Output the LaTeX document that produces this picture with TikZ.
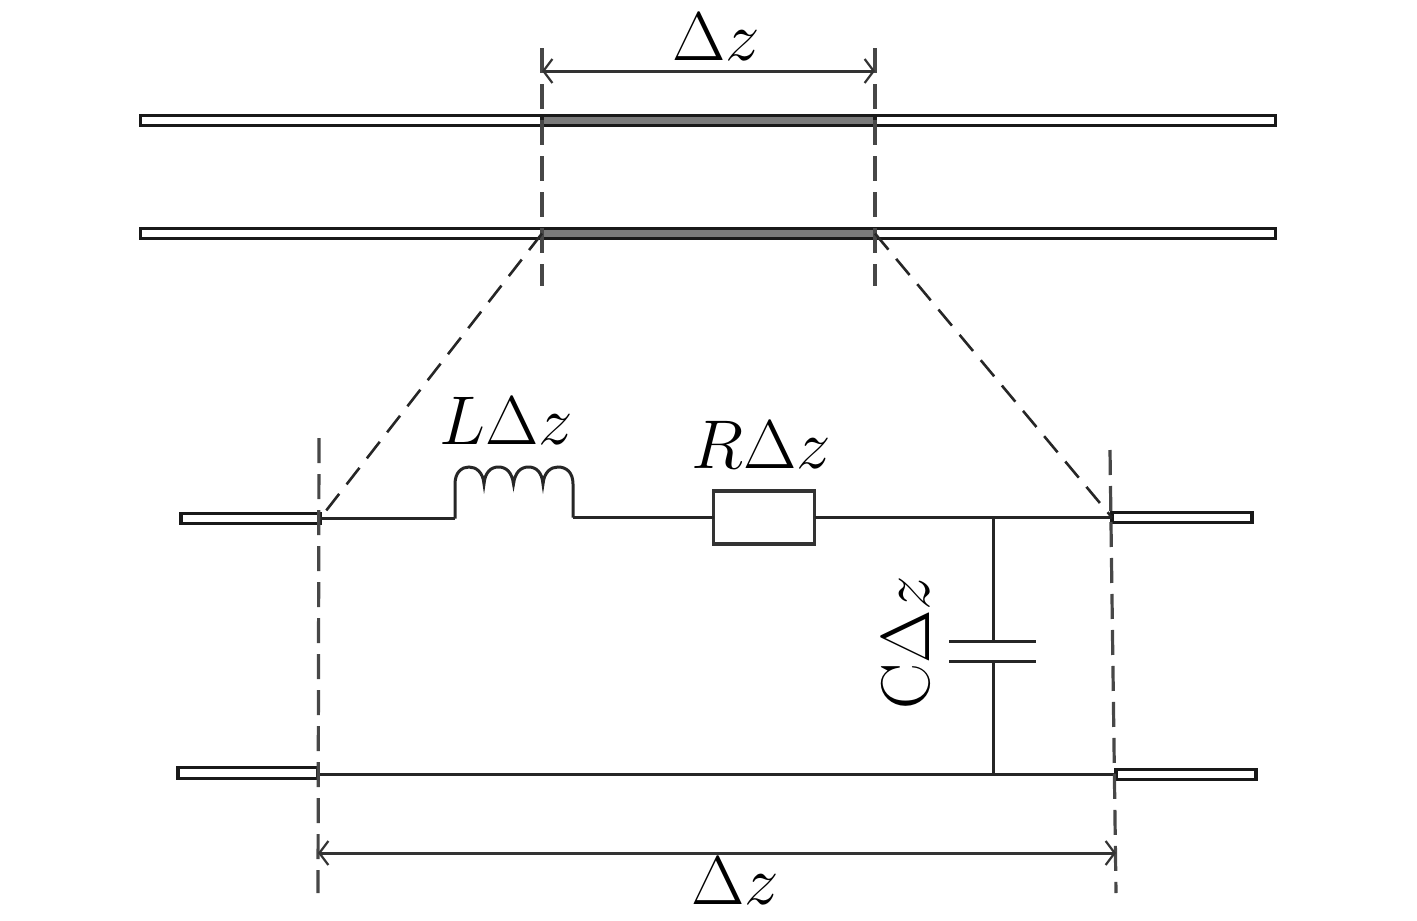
\documentclass[tikz,border=0pt]{standalone}
\usepackage{fix-cm}
\usetikzlibrary{arrows.meta}
\tikzset{
  wire/.style={draw=black!85,line width=3pt},
  bar/.style={draw=black!90,fill=white,line width=3.2pt,inner sep=0pt,outer sep=0pt,minimum height=10.5pt},
  darkbar/.style={bar,fill=black!52},
  resistor/.style={draw=black!80,fill=white,line width=3.4pt,inner sep=0pt,outer sep=0pt,minimum width=101pt,minimum height=53pt},
  guide/.style={draw=black!72,line width=3.6pt,dash pattern=on 25pt off 11pt},
  slant/.style={draw=black!85,line width=2.6pt,dash pattern=on 21pt off 12pt},
  dim/.style={draw=black!80,line width=3pt,{Straight Barb[length=9pt,width=24pt,line width=2.2pt]}-{Straight Barb[length=9pt,width=24pt,line width=2.2pt]}},
  lab/.style={inner sep=0pt,outer sep=0pt,anchor=base,font=\fontsize{69}{83}\selectfont}
}
\begin{document}
\begin{tikzpicture}[x=1pt,y=-1pt]
\useasboundingbox (0,0) rectangle (1417,921);
% transmission line
\node[bar,minimum width=1135pt] (upper) at (708,120.5) {};
\node[bar,minimum width=1135pt] (lower) at (708,233.5) {};
\node[darkbar,minimum width=333pt] (upperseg) at (708.5,120.5) {};
\node[darkbar,minimum width=333pt] (lowerseg) at (708.5,233.5) {};
% guides at the top
\coordinate (tlt) at (542,48);
\coordinate (tlb) at (542,286);
\coordinate (trt) at (875,48);
\coordinate (trb) at (875,286);
\draw[guide] (tlt) -- (tlb);
\draw[guide] (trt) -- (trb);
\coordinate (tda) at (542,71);
\coordinate (tdb) at (875,71);
\draw[dim] (tda) -- (tdb);
\node[lab] (toplab) at (716,60) {$\Delta z$};
% stubs
\node[bar,minimum width=139pt] (stubtl) at (250.5,518.5) {};
\node[bar,minimum width=140pt] (stubbl) at (248,773) {};
\node[bar,minimum width=140pt] (stubtr) at (1182,517.5) {};
\node[bar,minimum width=140pt] (stubbr) at (1186,774.5) {};
% circuit
\node[resistor] (res) at (764,517.5) {};
\coordinate (lina) at (455,518.5);
\coordinate (linb) at (573,517.5);
\coordinate (junct) at (993,517.5);
\coordinate (juncb) at (993,774);
\coordinate (platea) at (993,641);
\coordinate (plateb) at (993,661);
\coordinate (pal) at (949,641);
\coordinate (par) at (1036,641);
\coordinate (pbl) at (949,661);
\coordinate (pbr) at (1036,661);
\draw[wire] (stubtl.east) -- (lina);
\draw[wire] (lina) -- (455,484)
  .. controls (455,472) and (462,467) .. (469,467)
  .. controls (476,467) and (483,472) .. (484,484)
  .. controls (485,472) and (491,467) .. (498.500,467)
  .. controls (506,467) and (512,472) .. (513.500,484)
  .. controls (515,472) and (521,467) .. (528.500,467)
  .. controls (536,467) and (542,472) .. (543,484)
  .. controls (544,472) and (551,467) .. (558,467)
  .. controls (566,467) and (573,472) .. (573,484)
  -- (linb);
\draw[wire] (linb) -- (res.west);
\draw[wire] (res.east) -- (stubtr.west);
\draw[wire] (junct) -- (platea);
\draw[wire] (plateb) -- (juncb);
\draw[wire] (pal) -- (par);
\draw[wire] (pbl) -- (pbr);
\draw[wire] (stubbl.east |- juncb) -- (stubbr.west |- juncb);
% zoom lines
\draw[slant] (lowerseg.west) -- (stubtl.east);
\draw[slant] (lowerseg.east) -- (stubtr.west);
% guides of the circuit
\coordinate (blt) at (319,438);
\coordinate (blb) at (318,893);
\coordinate (brt) at (1110,450);
\coordinate (brb) at (1116,893);
\draw[guide,line width=3.2pt] (blt) -- (blb);
\draw[guide,line width=3.2pt] (brt) -- (brb);
\coordinate (bda) at (318,853);
\coordinate (bdb) at (1116,853);
\draw[dim] (bda) -- (bdb);
% labels
\node[lab] (llab) at (506,444) {$L\Delta z$};
\node[lab] (rlab) at (761,468) {$R\Delta z$};
\node[lab,rotate=90] (clab) at (929,643) {$\mathrm{C}\Delta z$};
\node[lab] (botlab) at (735,904) {$\Delta z$};
\end{tikzpicture}
\end{document}
